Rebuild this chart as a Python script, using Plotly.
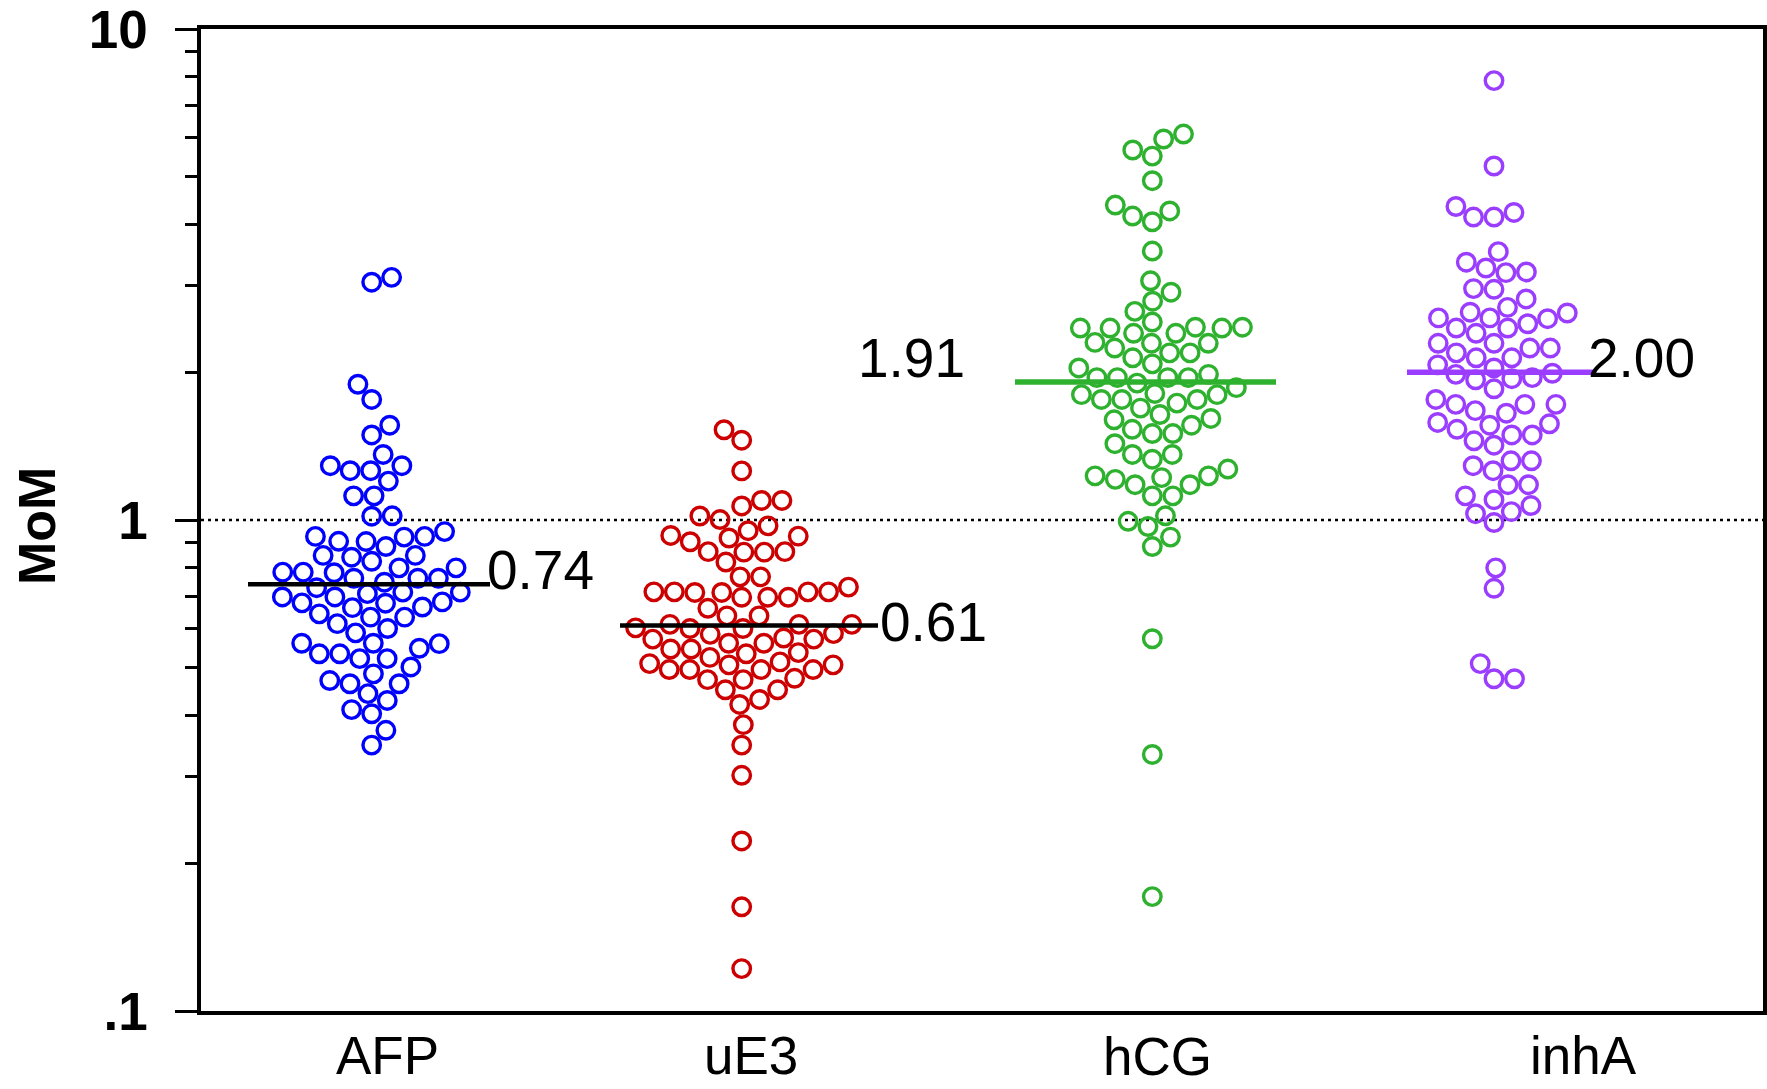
import numpy as np
import plotly.graph_objects as go

# ---------------- data ----------------
categories = ["AFP", "uE3", "hCG", "inhA"]

afp = [3.05, 3.12, 1.89, 1.76, 1.56, 1.49, 1.36, 1.29, 1.29, 1.26, 1.26, 1.20, 1.12, 1.12,
       1.02, 1.018, 0.947, 0.926, 0.923, 0.926, 0.905, 0.883, 0.904, 0.840, 0.824, 0.847,
       0.847, 0.799, 0.799, 0.783, 0.761, 0.781, 0.761, 0.783, 0.761, 0.728, 0.747, 0.713,
       0.708, 0.697, 0.713, 0.697, 0.677, 0.681, 0.665, 0.663, 0.678, 0.644, 0.634, 0.634,
       0.615, 0.601, 0.589, 0.561, 0.560, 0.561, 0.534, 0.522, 0.522, 0.534, 0.548, 0.502,
       0.486, 0.464, 0.471, 0.464, 0.443, 0.429, 0.411, 0.403, 0.373, 0.348]

ue3 = [1.527, 1.454, 1.259, 1.068, 1.096, 1.096, 1.019, 1.002, 0.973, 0.927, 0.930, 0.951,
       0.919, 0.903, 0.860, 0.862, 0.821, 0.862, 0.860, 0.766, 0.766, 0.714, 0.696, 0.714,
       0.714, 0.714, 0.730, 0.712, 0.696, 0.712, 0.696, 0.661, 0.638, 0.603, 0.613, 0.601,
       0.638, 0.601, 0.585, 0.613, 0.613, 0.587, 0.572, 0.561, 0.575, 0.572, 0.561, 0.546,
       0.534, 0.546, 0.525, 0.537, 0.496, 0.473, 0.514, 0.507, 0.496, 0.507, 0.476, 0.496,
       0.496, 0.510, 0.451, 0.451, 0.473, 0.431, 0.421, 0.383, 0.348, 0.302, 0.222, 0.163,
       0.122]

hcg = [6.11, 5.97, 5.67, 5.51, 4.91, 4.38, 4.26, 4.16, 4.05, 3.53, 3.07, 2.91, 2.79, 2.66,
       2.53, 2.46, 2.46, 2.46, 2.47, 2.47, 2.40, 2.40, 2.29, 2.29, 2.30, 2.24, 2.14, 2.19,
       2.19, 2.08, 1.98, 2.04, 1.90, 1.95, 1.95, 1.95, 1.95, 1.86, 1.76, 1.76, 1.80, 1.76,
       1.80, 1.81, 1.73, 1.69, 1.60, 1.61, 1.64, 1.56, 1.50, 1.50, 1.53, 1.43, 1.36, 1.36,
       1.33, 1.27, 1.22, 1.18, 1.23, 1.23, 1.21, 1.18, 1.12, 1.12, 1.02, 0.994, 0.970,
       0.923, 0.883, 0.573, 0.333, 0.171]

inha = [7.85, 5.26, 4.14, 4.35, 4.23, 4.14, 3.52, 3.26, 3.35, 3.20, 3.19, 2.96, 2.95, 2.82,
        2.71, 2.64, 2.46, 2.51, 2.58, 2.65, 2.57, 2.58, 2.46, 2.40, 2.29, 2.24, 2.29, 2.19,
        2.24, 2.14, 2.14, 1.98, 2.04, 1.99, 1.95, 1.93, 1.94, 2.07, 1.85, 1.72, 1.76, 1.72,
        1.65, 1.72, 1.67, 1.57, 1.53, 1.49, 1.49, 1.58, 1.56, 1.45, 1.42, 1.32, 1.26, 1.32,
        1.29, 1.18, 1.18, 1.12, 1.07, 1.03, 1.10, 1.04, 0.988, 0.799, 0.726, 0.510, 0.475,
        0.475]

medians = [0.74, 0.61, 1.91, 2.00]
median_labels = ["0.74", "0.61", "1.91", "2.00"]

y_tick_vals = [0.1, 1, 10]
y_tick_text = [".1", "1", "10"]
reference_level = 1.0
y_title = "MoM"

# ---------------- layout / style ----------------
W, H = 1767, 1089
ML, MR, MT, MB = 201, 4, 29, 78
PLOT_W = W - ML - MR
PLOT_H = H - MT - MB
PX_PER_DECADE = PLOT_H / 2.0

FONT = "Liberation Sans, Arial, sans-serif"
point_colors = ["#0000FF", "#CC0000", "#2EB12E", "#9B3DFF"]
line_colors = ["#000000", "#000000", "#2EB12E", "#9B3DFF"]
line_widths = [4.5, 4.5, 5.5, 5.5]

# x axis in plot-pixel units
group_centers = [170.7, 540.7, 951.3, 1293.0]
label_positions = [186.5, 549.6, 956.0, 1382.0]
label_yshift = [-14, -14, -15, -14]
median_spans = [(47, 289), (419, 677), (814, 1075), (1206, 1392)]
# (x, xanchor, yshift) for median value labels
median_label_pos = [(284, "left", 14), (677, "left", 3), (765.5, "right", 24), (1385, "left", 14.5)]

MARKER_SIZE = 17.5
MARKER_LINE = 3.4
SWARM_D = 20.5


def beeswarm(vals, d=SWARM_D, ppd=PX_PER_DECADE):
    y = np.log10(np.asarray(vals, dtype=float)) * ppd
    order = np.argsort(y, kind="stable")
    placed = []
    xs = np.zeros(len(y))
    left = right = 0
    for i in order:
        yi = y[i]
        cands = [0.0]
        for xj, yj in placed:
            dy = abs(yi - yj)
            if dy < d:
                h = np.sqrt(d * d - dy * dy)
                cands += [xj + h, xj - h]
        pref = 1 if right <= left else -1
        cands.sort(key=lambda c: (round(abs(c), 6), 0 if c * pref >= 0 else 1))
        for c in cands:
            if all((c - xj) ** 2 + (yi - yj) ** 2 >= d * d - 1e-6 for xj, yj in placed):
                xs[i] = c
                break
        placed.append((xs[i], yi))
        if xs[i] > 1e-9:
            right += 1
        elif xs[i] < -1e-9:
            left += 1
    return xs


fig = go.Figure()

# reference line at MoM = 1
fig.add_trace(go.Scatter(
    x=[0, PLOT_W], y=[reference_level, reference_level], mode="lines",
    line=dict(color="black", width=2.5, dash="3px,4px"),
    hoverinfo="skip", showlegend=False))

groups = [afp, ue3, hcg, inha]
for gi, vals in enumerate(groups):
    offs = beeswarm(vals)
    fig.add_trace(go.Scatter(
        x=group_centers[gi] + offs, y=vals, mode="markers",
        marker=dict(symbol="circle-open", size=MARKER_SIZE, color=point_colors[gi],
                    line=dict(width=MARKER_LINE, color=point_colors[gi])),
        name=categories[gi], showlegend=False, cliponaxis=False))

for gi, m in enumerate(medians):
    x0, x1 = median_spans[gi]
    fig.add_trace(go.Scatter(
        x=[x0, x1], y=[m, m], mode="lines",
        line=dict(color=line_colors[gi], width=line_widths[gi]),
        hoverinfo="skip", showlegend=False))
    lx, anchor, ysh = median_label_pos[gi]
    fig.add_annotation(x=lx, y=np.log10(m), xref="x", yref="y", text=median_labels[gi],
                       showarrow=False, xanchor=anchor, yanchor="middle", yshift=ysh,
                       font=dict(family=FONT, size=55, color="black"))

# category labels below the x axis
for gi, cat in enumerate(categories):
    fig.add_annotation(x=label_positions[gi], y=0, xref="x", yref="paper", text=cat,
                       showarrow=False, xanchor="center", yanchor="top",
                       yshift=label_yshift[gi], borderpad=0,
                       font=dict(family=FONT, size=53, color="black"))

fig.add_annotation(x=(37 - ML) / PLOT_W, y=(H - MB - 526) / PLOT_H, xref="paper", yref="paper",
                   text=y_title, textangle=-90, showarrow=False, xanchor="center",
                   yanchor="middle",
                   font=dict(family=FONT, size=52, color="black", weight="bold"))

minor_vals = [k / 10 for k in range(2, 10)] + [k for k in range(2, 10)]

fig.update_layout(
    template="none",
    width=W, height=H, autosize=False,
    margin=dict(l=ML, r=MR, t=MT, b=MB, pad=0, autoexpand=False),
    paper_bgcolor="white", plot_bgcolor="white",
    showlegend=False,
    xaxis=dict(range=[0, PLOT_W], showgrid=False, zeroline=False, automargin=False,
               showline=True, linecolor="black", linewidth=3.5, mirror=True,
               ticks="", showticklabels=False),
    yaxis=dict(type="log", range=[-1, 1], showgrid=False, zeroline=False, automargin=False,
               showline=True, linecolor="black", linewidth=3.5, mirror="ticks",
               ticks="outside", ticklen=22, tickwidth=3, tickcolor="black",
               tickvals=y_tick_vals, ticktext=y_tick_text,
               tickfont=dict(family=FONT, size=53, color="black", weight="bold"),
               ticklabelstandoff=17, ticklabeloverflow="allow",
               minor=dict(tickvals=minor_vals, ticks="outside", ticklen=12,
                          tickwidth=3, tickcolor="black", showgrid=False)),
)

fig.write_html("out.html", config={"displayModeBar": False},
               post_script="document.body.style.margin='0px';")
